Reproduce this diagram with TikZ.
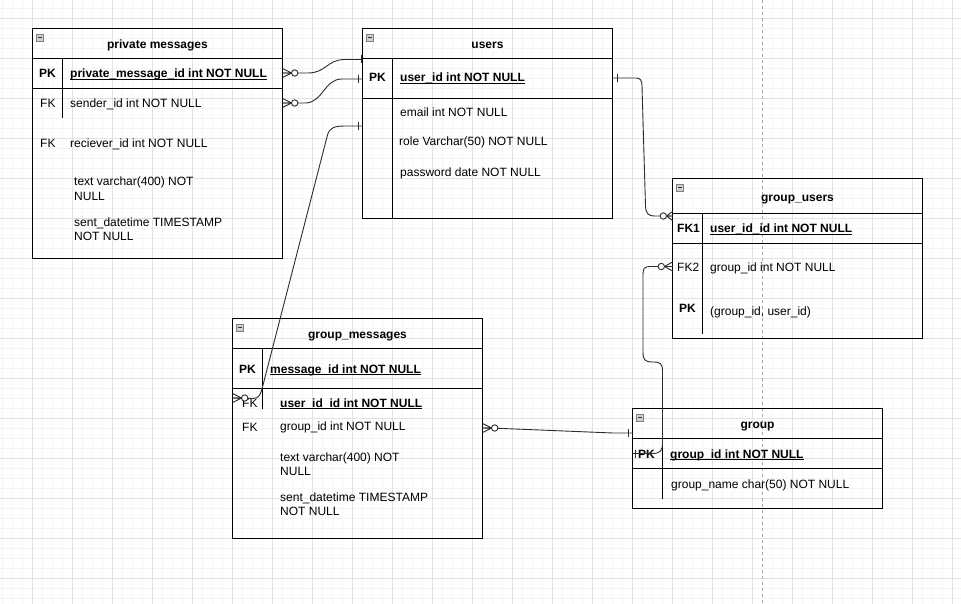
\documentclass[tikz,border=0pt]{standalone}
\usepackage{fontspec}
\setmainfont{Liberation Sans}
\usetikzlibrary{calc}
\definecolor{gridmaj}{HTML}{E2E2E2}
\definecolor{gridmin}{HTML}{F5F5F5}
\definecolor{conncol}{HTML}{2E2E2E}
\definecolor{pagebrk}{HTML}{A8A8A8}
\definecolor{iconfill}{HTML}{D0D0D0}
\definecolor{icondraw}{HTML}{808080}
\newcommand\ulfld[1]{\setbox0=\hbox{#1}\rlap{\rule[-2.2pt]{\wd0}{0.9pt}}\box0}
\newcommand\ZeroMany[3]{%
  \begin{scope}[shift={(#1)},xscale=#2]
    \draw[conn] (0,-4.5) -- (#3,0) -- (0,4.5) (0,0) -- (#3,0);
    \draw[conn,fill=white] ({#3+3.2},0) circle (3.2);
  \end{scope}}
\newcommand\OneTick[2]{\draw[conn] ($(#1)+(#2,-4)$) -- ($(#1)+(#2,4)$);}
\newcommand\MinusIcon[1]{%
  \draw[icon] ($(#1)+(3.5,5.5)$) rectangle ++(7.5,7.5);
  \draw[line width=0.9pt,draw=black!80] ($(#1)+(5.3,9.25)$) -- ++(3.9,0);}
\begin{document}
\begin{tikzpicture}[x=1pt,y=-1pt,
  tbl/.style={draw=black,line width=1pt,inner sep=0pt,outer sep=0pt,anchor=north west},
  sep/.style={draw=black,line width=1pt},
  fld/.style={anchor=base west,inner sep=0pt,font=\fontsize{12}{14}\selectfont},
  key/.style={fld,font=\fontsize{12}{14}\selectfont\bfseries},
  ttl/.style={anchor=base,inner sep=0pt,font=\fontsize{12}{14}\selectfont\bfseries},
  conn/.style={draw=conncol,line width=0.9pt},
  icon/.style={draw=icondraw,fill=iconfill,line width=0.8pt},
  grdmin/.style={draw=gridmin,line width=1pt},
  grdmaj/.style={draw=gridmaj,line width=1pt}]
\useasboundingbox (0,0) rectangle (961,604);
\fill[white] (0,0) rectangle (961,604);
% grid
\foreach \x in {2.5,12.5,...,952.5} \draw[grdmin] (\x,0) -- (\x,604);
\foreach \y in {8.5,18.5,...,598.5} \draw[grdmin] (0,\y) -- (961,\y);
\foreach \x in {32.5,72.5,...,952.5} \draw[grdmaj] (\x,0) -- (\x,604);
\foreach \y in {18.5,58.5,...,578.5} \draw[grdmaj] (0,\y) -- (961,\y);
\draw[pagebrk,dash pattern=on 3pt off 3pt,line width=1pt] (762.5,0) -- (762.5,604);

% private messages
\node[tbl,minimum width=250,minimum height=230] (pm) at (32.5,28.5) {};
\draw[sep] (32.5,58.5) -- (282.5,58.5) (32.5,88.5) -- (282.5,88.5) (62.5,58.5) -- (62.5,118.5);
\MinusIcon{pm.north west}
\node[ttl] (pmt) at (157.5,48.5) {private messages};
\node[key] (pmk1) at (39,78) {PK};
\node[key] (pmf1) at (70,78) {\ulfld{private\_message\_id int NOT NULL}};
\node[fld] (pmk2) at (40,108) {FK};
\node[fld] (pmf2) at (70,108) {sender\_id int NOT NULL};
\node[fld] (pmk3) at (40,148) {FK};
\node[fld] (pmf3) at (70,148) {reciever\_id int NOT NULL};
\node[fld] (pmf4) at (74,186) {\begin{tabular}[t]{@{}l@{}}text varchar(400) NOT\\NULL\end{tabular}};
\node[fld] (pmf5) at (74,226) {\begin{tabular}[t]{@{}l@{}}sent\_datetime TIMESTAMP\\NOT NULL\end{tabular}};

% users
\node[tbl,minimum width=250,minimum height=190] (us) at (362.5,28.5) {};
\draw[sep] (362.5,58.5) -- (612.5,58.5) (362.5,98.5) -- (612.5,98.5) (392.5,58.5) -- (392.5,218.5);
\MinusIcon{us.north west}
\node[ttl] (ust) at (487.5,48.5) {users};
\node[key] (usk1) at (369,82) {PK};
\node[key] (usf1) at (400,82) {\ulfld{user\_id int NOT NULL}};
\node[fld] (usf2) at (400,117) {email int NOT NULL};
\node[fld] (usf3) at (399,146) {role Varchar(50) NOT NULL};
\node[fld] (usf4) at (400,177) {password date NOT NULL};

% group_users
\node[tbl,minimum width=250,minimum height=160] (gu) at (672.5,178.5) {};
\draw[sep] (672.5,213.5) -- (922.5,213.5) (672.5,243.5) -- (922.5,243.5) (702.5,213.5) -- (702.5,333.5);
\MinusIcon{gu.north west}
\node[ttl] (gut) at (797.5,201.5) {group\_users};
\node[key] (guk1) at (677,233) {FK1};
\node[key] (guf1) at (710,233) {\ulfld{user\_id\_id int NOT NULL}};
\node[fld] (guk2) at (677,271) {FK2};
\node[fld] (guf2) at (710,271) {group\_id int NOT NULL};
\node[key] (guk3) at (679,312) {PK};
\node[fld] (guf3) at (710,315) {(group\_id, user\_id)};

% group_messages
\node[tbl,minimum width=250,minimum height=220] (gm) at (232.5,318.5) {};
\draw[sep] (232.5,348.5) -- (482.5,348.5) (232.5,388.5) -- (482.5,388.5) (262.5,348.5) -- (262.5,408.5);
\MinusIcon{gm.north west}
\node[ttl] (gmt) at (357.5,338.5) {group\_messages};
\node[key] (gmk1) at (239,373) {PK};
\node[key] (gmf1) at (270,373) {\ulfld{message\_id int NOT NULL}};
\node[fld] (gmk2) at (242,407) {FK};
\node[key] (gmf2) at (280,407) {\ulfld{user\_id\_id int NOT NULL}};
\node[fld] (gmk3) at (242,431) {FK};
\node[fld] (gmf3) at (280,430) {group\_id int NOT NULL};
\node[fld] (gmf4) at (280,461) {\begin{tabular}[t]{@{}l@{}}text varchar(400) NOT\\NULL\end{tabular}};
\node[fld] (gmf5) at (280,501) {\begin{tabular}[t]{@{}l@{}}sent\_datetime TIMESTAMP\\NOT NULL\end{tabular}};

% group
\node[tbl,minimum width=250,minimum height=100] (gr) at (632.5,408.5) {};
\draw[sep] (632.5,438.5) -- (882.5,438.5) (632.5,468.5) -- (882.5,468.5) (662.5,438.5) -- (662.5,498.5);
\MinusIcon{gr.north west}
\node[ttl] (grt) at (757.5,428.5) {group};
\node[key] (grk1) at (638,458) {PK};
\node[key] (grf1) at (670,458) {\ulfld{group\_id int NOT NULL}};
\node[fld] (grf2) at (671,488) {group\_name char(50) NOT NULL};

% connector end points
\coordinate (c1s) at ($(pm.north east)+(0,44.5)$);
\coordinate (c1t) at ($(us.north west)+(0,31)$);
\coordinate (c2s) at ($(pm.north east)+(0,74.5)$);
\coordinate (c2t) at ($(us.north west)+(0,50.5)$);
\coordinate (c3s) at ($(gm.north west)+(0,79.5)$);
\coordinate (c3t) at ($(us.north west)+(0,97.5)$);
\coordinate (c4s) at ($(us.north east)+(0,49.5)$);
\coordinate (c4t) at ($(gu.north west)+(0,37.5)$);
\coordinate (c5s) at ($(gu.north west)+(0,88)$);
\coordinate (c5t) at ($(gr.north west)+(0,45)$);
\coordinate (c6s) at ($(gm.north east)+(0,109.5)$);
\coordinate (c6t) at ($(gr.north west)+(0,24.5)$);

% connectors
\draw[conn] (c1s) -- (308,73) .. controls (326,73) and (327,59.5) .. (345,59.5) -- (c1t);
\draw[conn] (c2s) -- (305,103) .. controls (323,103) and (324,79) .. (342,79) -- (c2t);
\draw[conn] (c3s) -- (253,398.5) .. controls (259,398.5) and (261,394) .. (262.5,387) -- (327.5,135) .. controls (329.5,128) and (334,126) .. (345,126) -- (c3t);
\draw[conn] (c4s) -- (636,78) .. controls (640,78) and (642,80) .. (642,86) -- (645.5,206) .. controls (645.5,213) and (648,216) .. (655,216) -- (c4t);
\draw[conn] (c5s) -- (650,266.5) .. controls (645,266.5) and (643,268) .. (643,274) -- (643,352) .. controls (643,360) and (645,362) .. (653,362) .. controls (661,362) and (662.5,364) .. (662.5,372) -- (662.5,443) .. controls (662.5,451) and (660,453.5) .. (652,453.5) -- (c5t);
\draw[conn] (c6s) -- (498,428.3) -- (613,433) -- (c6t);

% end marks
\ZeroMany{c1s}{1}{9}
\OneTick{c1t}{-1}
\ZeroMany{c2s}{1}{9}
\OneTick{c2t}{-4}
\ZeroMany{c3s}{1}{9}
\OneTick{c3t}{-4}
\OneTick{c4s}{4.5}
\ZeroMany{c4t}{-1}{6}
\ZeroMany{c5s}{-1}{8}
\OneTick{c5t}{3}
\ZeroMany{c6s}{1}{9}
\OneTick{c6t}{-4.5}
\end{tikzpicture}
\end{document}
